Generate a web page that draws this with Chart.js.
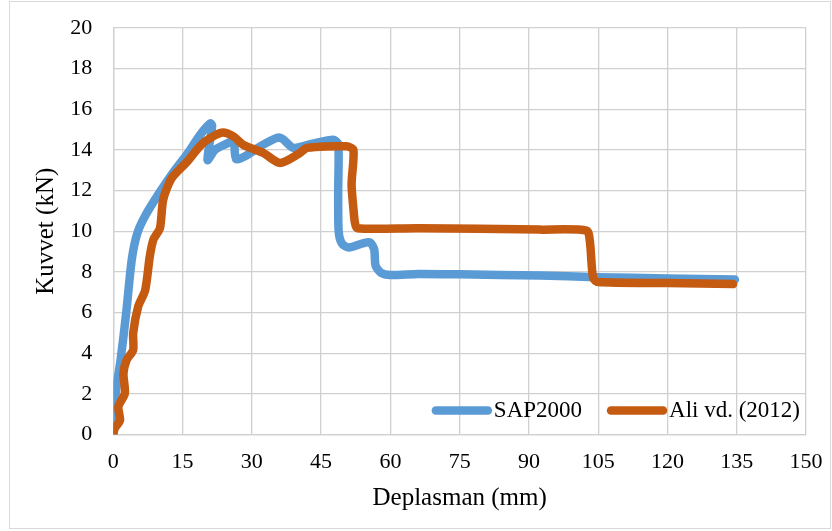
<!DOCTYPE html>
<html>
<head>
<meta charset="utf-8">
<script src="https://cdn.jsdelivr.net/npm/chart.js@4.4.1/dist/chart.umd.min.js"></script>
<style>
  html, body { margin: 0; padding: 0; background: #fff; }
  #wrap { width: 832px; height: 531px; }
</style>
</head>
<body>
<div id="wrap"><canvas id="chart" width="832" height="531"></canvas></div>
<script>
// ─── Data ────────────────────────────────────────────────────────────────────
const sapX = [0, 0.5, 1.6, 2.8, 4.0, 5.2, 7.0, 10, 13, 16, 19, 21.0, 21.4, 20.4, 22, 24, 26, 26.6, 29, 32, 35.5, 36.6, 39, 43, 47.6, 48.7, 48.7, 48.8, 49.5, 51, 54, 55.6, 56.5, 56.8, 58, 60, 66, 75, 92.4, 104.6, 120, 134.6];
const sapY = [0, 2.0, 3.7, 6.0, 8.6, 9.9, 10.8, 11.9, 12.9, 13.8, 14.8, 15.3, 15.2, 13.5, 14.0, 14.25, 14.4, 13.55, 13.75, 14.2, 14.6, 14.55, 14.1, 14.3, 14.5, 14.3, 12.0, 10.0, 9.4, 9.2, 9.4, 9.45, 9.1, 8.3, 7.95, 7.85, 7.9, 7.88, 7.82, 7.74, 7.68, 7.62];

const aliX = [0, 0.3, 1.45, 1.1, 2.5, 2.2, 2.9, 4.3, 4.3, 5.4, 6.9, 7.9, 8.7, 10.1, 10.8, 12.6, 15.9, 19.5, 23.5, 26, 28.1, 32.5, 36.1, 40.4, 41.9, 50.5, 52.0, 51.6, 52.0, 52.3, 52.8, 66, 92.4, 102.5, 103.2, 103.9, 105, 120, 134.2];
const aliY = [0, 0.3, 0.7, 1.37, 2.03, 3.0, 3.67, 4.16, 4.98, 6.3, 7.1, 8.76, 9.6, 10.15, 11.55, 12.6, 13.4, 14.35, 14.85, 14.67, 14.26, 13.85, 13.36, 13.85, 14.1, 14.18, 14.0, 12.3, 11.1, 10.45, 10.15, 10.15, 10.08, 10.03, 9.5, 7.7, 7.5, 7.45, 7.4];

const xTicks = [0, 15, 30, 45, 60, 75, 90, 105, 120, 135, 150];
const yTicks = [0, 2, 4, 6, 8, 10, 12, 14, 16, 18, 20];

const seriesNames = ['SAP2000', 'Ali vd. (2012)'];
const seriesColors = ['#5b9bd5', '#c55a11'];

// ─── Helpers ─────────────────────────────────────────────────────────────────
const toPoints = (xs, ys) => xs.map((x, i) => ({ x, y: ys[i] }));
const SERIF = "'Liberation Serif', 'Times New Roman', serif";

// outer frame of the chart object
const framePlugin = {
    id: 'frame',
    beforeDraw(chart) {
        const ctx = chart.ctx;
        ctx.save();
        ctx.fillStyle = '#fff';
        ctx.fillRect(0, 0, chart.width, chart.height);
        ctx.strokeStyle = '#d9d9d9';
        ctx.lineWidth = 1;
        ctx.strokeRect(9.5, 1.5, 821, 527);
        ctx.restore();
    }
};

// legend floating at the bottom right of the plot area
const innerLegend = {
    id: 'innerLegend',
    afterDatasetsDraw(chart) {
        const { ctx, chartArea } = chart;
        ctx.save();
        ctx.font = '23px ' + SERIF;
        ctx.textBaseline = 'middle';
        const y = chartArea.bottom - 24;
        let right = chartArea.right - 6;
        for (let i = seriesNames.length - 1; i >= 0; i--) {
            const w = ctx.measureText(seriesNames[i]).width;
            const textX = right - w;
            ctx.fillStyle = '#000';
            ctx.fillText(seriesNames[i], textX, y);
            ctx.strokeStyle = seriesColors[i];
            ctx.lineWidth = 8.5;
            ctx.lineCap = 'round';
            ctx.beginPath();
            ctx.moveTo(textX - 58, y);
            ctx.lineTo(textX - 6, y);
            ctx.stroke();
            right = textX - 64 - 23;
        }
        ctx.restore();
    }
};

const gridStyle = { color: '#d0d0d0', lineWidth: 1.3, drawTicks: false };

new Chart(document.getElementById('chart'), {
    type: 'scatter',
    data: {
        datasets: [
            {
                label: seriesNames[0],
                data: toPoints(sapX, sapY),
                borderColor: seriesColors[0],
                backgroundColor: seriesColors[0],
                borderWidth: 8.5,
                showLine: true,
                pointRadius: 0,
                tension: 0.25,
                borderCapStyle: 'round',
                borderJoinStyle: 'round',
                order: 2,
            },
            {
                label: seriesNames[1],
                data: toPoints(aliX, aliY),
                borderColor: seriesColors[1],
                backgroundColor: seriesColors[1],
                borderWidth: 8.5,
                showLine: true,
                pointRadius: 0,
                tension: 0.25,
                borderCapStyle: 'round',
                borderJoinStyle: 'round',
                order: 1,
            }
        ]
    },
    options: {
        responsive: false,
        animation: false,
        devicePixelRatio: 1,
        layout: { padding: { top: 28, right: 26, left: 0, bottom: 0 } },
        scales: {
            x: {
                type: 'linear',
                min: 0,
                max: 150,
                afterBuildTicks: (s) => { s.ticks = xTicks.map(v => ({ value: v })); },
                // fixed box size, and no extra room for overflowing labels
                afterFit: (s) => { s.height = 96.5; s.paddingLeft = 0; s.paddingRight = 0; },
                grid: gridStyle,
                border: { color: '#d0d0d0', width: 1.3 },
                ticks: { color: '#000', padding: 15, font: { family: SERIF, size: 22 } },
                title: {
                    display: true,
                    text: 'Deplasman (mm)',
                    color: '#000',
                    font: { family: SERIF, size: 25 },
                    padding: { bottom: 18, top: 0 },
                },
            },
            y: {
                type: 'linear',
                min: 0,
                max: 20,
                afterBuildTicks: (s) => { s.ticks = yTicks.map(v => ({ value: v })); },
                afterFit: (s) => { s.width = 113.3; s.paddingTop = 0; s.paddingBottom = 0; },
                grid: gridStyle,
                border: { color: '#d0d0d0', width: 1.3 },
                ticks: { color: '#000', padding: 21, font: { family: SERIF, size: 22 } },
                title: {
                    display: true,
                    text: 'Kuvvet (kN)',
                    color: '#000',
                    font: { family: SERIF, size: 25 },
                    padding: { top: 31, bottom: 0 },
                },
            }
        },
        plugins: {
            legend: { display: false },
            tooltip: { enabled: false },
        }
    },
    plugins: [framePlugin, innerLegend]
});
</script>
</body>
</html>
